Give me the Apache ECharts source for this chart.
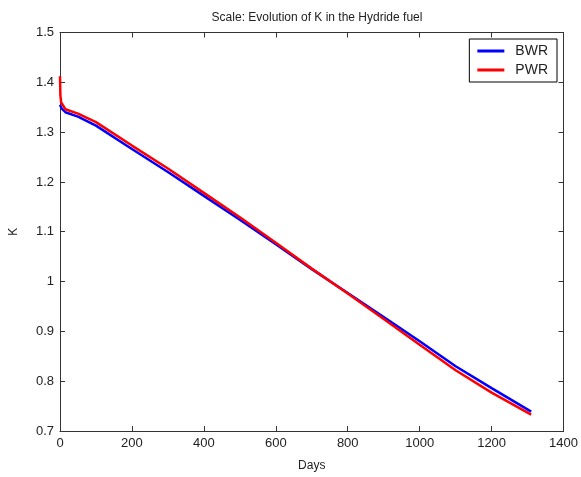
<!DOCTYPE html>
<html>
<head>
<meta charset="utf-8">
<script src="https://cdn.jsdelivr.net/npm/echarts@6/dist/echarts.min.js"></script>
<style>
  html, body { margin: 0; padding: 0; background: #fff; }
  #chart { width: 581px; height: 477px; }
</style>
</head>
<body>
<div id="chart"></div>
<script>
const bwrDays = [0, 5, 15, 50, 100, 200, 300, 400, 500, 600, 700, 800, 900, 1000, 1100, 1200, 1310];
const bwrK = [1.355, 1.347, 1.340, 1.331, 1.313, 1.266, 1.220, 1.172, 1.124, 1.075, 1.025, 0.977, 0.929, 0.880, 0.830, 0.786, 0.739];

const pwrDays = [0, 1, 3, 15, 50, 100, 200, 300, 400, 500, 600, 700, 800, 900, 1000, 1100, 1200, 1310];
const pwrK = [1.412, 1.375, 1.360, 1.346, 1.337, 1.320, 1.273, 1.227, 1.178, 1.129, 1.078, 1.026, 0.976, 0.925, 0.873, 0.822, 0.777, 0.733];

const pairs = (xs, ys) => xs.map((x, i) => [x, ys[i]]);

const font = "'Liberation Sans', Arial, sans-serif";
const axisColor = "#333";

const boxAxis = {
  axisLine: { show: true, onZero: false, lineStyle: { color: axisColor, width: 1 } },
  axisTick: { show: true, inside: true, length: 5, lineStyle: { color: axisColor } },
  splitLine: { show: false }
};

const option = {
  animation: false,
  backgroundColor: "#fff",
  title: {
    text: "Scale: Evolution of K in the Hydride fuel",
    left: 312,
    top: 7,
    textAlign: "center",
    textStyle: { fontFamily: font, fontSize: 12, fontWeight: "normal", color: "#222" }
  },
  legend: {
    orient: "vertical",
    right: 24,
    top: 39,
    padding: [4, 9, 4, 8],
    icon: "rect",
    itemWidth: 27,
    itemHeight: 3,
    itemGap: 3,
    borderColor: "#000",
    borderWidth: 1,
    backgroundColor: "#fff",
    textStyle: { fontFamily: font, fontSize: 14, color: "#222", lineHeight: 16, padding: [0, 0, 0, 6] },
    data: ["BWR", "PWR"]
  },
  grid: { left: 58.5, right: 15.5, top: 32.5, bottom: 44.5 },
  xAxis: [
    Object.assign({
      type: "value",
      min: 0,
      max: 1400,
      interval: 200,
      name: "Days",
      nameLocation: "middle",
      nameGap: 29,
      nameTextStyle: { fontFamily: font, fontSize: 12, color: "#222" },
      axisLabel: {
        fontFamily: font, fontSize: 13, color: "#222", margin: 6,
        formatter: (v) => String(v)
      }
    }, boxAxis),
    Object.assign({
      type: "value",
      position: "top",
      min: 0,
      max: 1400,
      interval: 200,
      axisLabel: { show: false }
    }, boxAxis)
  ],
  yAxis: [
    Object.assign({
      type: "value",
      min: 0.7,
      max: 1.5,
      interval: 0.1,
      name: "K",
      nameLocation: "middle",
      nameRotate: 90,
      nameGap: 40,
      nameTextStyle: { fontFamily: font, fontSize: 12, color: "#222" },
      axisLabel: {
        fontFamily: font, fontSize: 13, color: "#222", margin: 6,
        formatter: (v) => String(parseFloat(v.toFixed(1)))
      }
    }, boxAxis),
    Object.assign({
      type: "value",
      position: "right",
      min: 0.7,
      max: 1.5,
      interval: 0.1,
      axisLabel: { show: false }
    }, boxAxis)
  ],
  series: [
    {
      name: "BWR",
      type: "line",
      data: pairs(bwrDays, bwrK),
      symbol: "none",
      color: "#0000ff",
      lineStyle: { color: "#0000ff", width: 2.5 }
    },
    {
      name: "PWR",
      type: "line",
      data: pairs(pwrDays, pwrK),
      symbol: "none",
      color: "#ff0000",
      lineStyle: { color: "#ff0000", width: 2.5 }
    }
  ]
};

const chart = echarts.init(document.getElementById("chart"));
chart.setOption(option);
</script>
</body>
</html>
